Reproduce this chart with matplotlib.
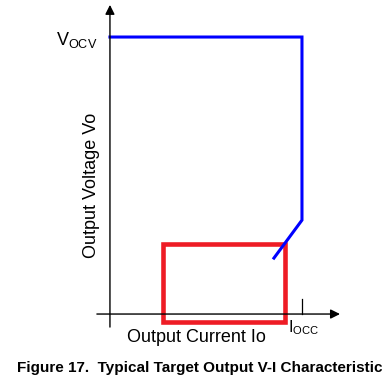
import matplotlib
matplotlib.use("Agg")
import matplotlib.pyplot as plt
from matplotlib.patches import Rectangle

plt.rcParams['font.family'] = ['Liberation Sans', 'DejaVu Sans']

# V-I curve, normalised: current in units of Iocc, voltage in units of Vocv
current = [0.0, 1.0, 1.0, 0.854]
voltage = [1.0, 1.0, 0.339, 0.202]

# target operating region (red box)
box_i = [0.276, 0.911]
box_v = [-0.029, 0.253]

iocc = 1.0

fig = plt.figure(figsize=(3.92, 3.82), dpi=100)
# axes placed so that the origin sits where the arrows cross
ax = fig.add_axes([0.2413, 0.1199, 0.6515, 0.8702])
ax.set_xlim(-0.08, 1.25)
ax.set_ylim(-0.08, 1.12)
ax.axis('off')

# axes arrows
arrow = dict(arrowstyle='-|>', lw=1.0, color='black', mutation_scale=14, shrinkA=0, shrinkB=0)
ax.annotate('', xy=(0, 1.116), xytext=(0, -0.047), arrowprops=arrow)
ax.annotate('', xy=(1.198, 0), xytext=(-0.068, 0), arrowprops=arrow)

# Iocc tick
ax.plot([iocc, iocc], [0, 0.054], color='black', lw=0.9)

# curve
ax.plot(current, voltage, color='#0000ff', lw=2.2, solid_joinstyle='miter')

# red box
ax.add_patch(Rectangle((box_i[0], box_v[0]), box_i[1] - box_i[0], box_v[1] - box_v[0],
                       fill=False, edgecolor='#ee1c25', lw=3.3))

ax.text(-0.063, 0.99, r'V$_{\mathregular{OCV}}$', fontsize=13, ha='right', va='center')
ax.text(0.925, -0.05, r'I$_{\mathregular{OCC}}$', fontsize=11.5, ha='left', va='center')
ax.text(0.45, -0.083, 'Output Current Io', fontsize=13, ha='center', va='center')
ax.text(-0.095, 0.465, 'Output Voltage Vo', fontsize=13, ha='center', va='center', rotation=90)

fig.text(0.51, 0.0366, 'Figure 17.  Typical Target Output V-I Characteristic',
         fontsize=11, fontweight='bold', ha='center', va='center')

fig.savefig('out.png', dpi=100)
